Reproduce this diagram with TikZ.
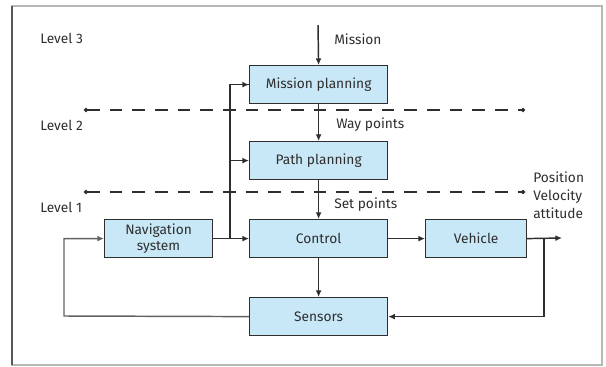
\documentclass[tikz,border=0pt]{standalone}
\usepackage{fontspec}
\setmainfont{Fira Sans}
\usetikzlibrary{arrows.meta}
\definecolor{boxfill}{HTML}{C8E8F8}
\definecolor{ink}{HTML}{2E2E2E}
\definecolor{framecol}{HTML}{B8B8B8}
\begin{document}
\begin{tikzpicture}[x=0.75pt,y=-0.75pt,
  font=\fontsize{10.3}{13.5}\selectfont, text=ink,
  blk/.style={draw=ink, line width=0.9pt, fill=boxfill, minimum width=103.5pt,
    minimum height=28.5pt, inner sep=0pt, align=center, anchor=north west},
  conn/.style={draw=ink, line width=1.1pt, -{Latex[length=5pt,width=4.5pt]}},
  wire/.style={draw=ink, line width=1.1pt},
  level/.style={draw=ink, line width=1.4pt, dash pattern=on 9.5pt off 7.5pt,
    {Circle[length=3pt]}-{Circle[length=3pt]}},
  lbl/.style={anchor=west, inner sep=0pt}]
\useasboundingbox (0,0) rectangle (606,367);
% outer frame
\draw[framecol, line width=0.9pt] (12,6) rectangle (602,365);
\draw[ink!80, line width=0.9pt] (12,6) -- (12,365);

% blocks
\node[blk] (mp) at (249,65) {Mission planning};
\node[blk] (pp) at (249,141) {Path planning};
\node[blk] (ctl) at (249,219) {Control};
\node[blk, minimum width=75.75pt] (veh) at (425,219) {Vehicle};
\node[blk] (sen) at (249,297) {Sensors};
\node[blk, minimum width=81pt, font=\fontsize{10.3}{12}\selectfont] (nav) at (104,219) {Navigation\\system};

% level separators
\coordinate (l2a) at (84,110);
\coordinate (l2b) at (525,110);
\coordinate (l1a) at (84,192);
\coordinate (l1b) at (525,192);
\draw[level] (l2a) -- (l2b);
\draw[level] (l1a) -- (l1b);

% texts
\node[lbl] (lv3) at (40,38) {Level 3};
\node[lbl] (lv2) at (40,125) {Level 2};
\node[lbl] (lv1) at (40,207) {Level 1};
\node[lbl] (tmis) at (334,39) {Mission};
\node[lbl] (tway) at (336,125) {Way points};
\node[lbl] (tset) at (334,205) {Set points};
\node[lbl, align=left] (tpos) at (533,195) {Position\\Velocity\\attitude};

% connectors
\coordinate (min) at (318,25);
\draw[conn] (min) -- (mp.north);
\draw[conn] (mp.south) -- (pp.north);
\draw[conn] (pp.south) -- (ctl.north);
\draw[conn] (ctl.south) -- (sen.north);
\draw[conn] (nav.east) -- (ctl.west);
\draw[conn] (ctl.east) -- (veh.west);
\coordinate (out) at (562,238);
\draw[conn] (veh.east) -- (out);

% navigation branch up to the planners
\coordinate (nb) at (230,238);
\draw[wire] (nb) |- (mp.west);
\draw[conn] (nb |- mp.west) -- (mp.west);
\draw[conn] (nb |- pp.west) -- (pp.west);

% vehicle feedback to sensors
\coordinate (vb) at (544,238);
\draw[conn] (vb) |- (sen.east);

% sensors back to navigation
\coordinate (sl) at (64,316);
\draw[conn, draw=ink!75] (sen.west) -- (sl) |- (nav.west);
\end{tikzpicture}
\end{document}
